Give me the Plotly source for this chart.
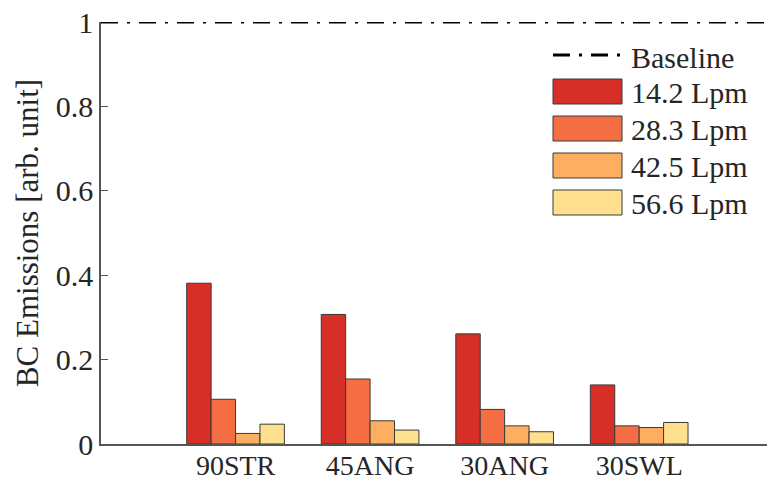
import plotly.graph_objects as go

categories = ["90STR", "45ANG", "30ANG", "30SWL"]
series_names = ["14.2 Lpm", "28.3 Lpm", "42.5 Lpm", "56.6 Lpm"]
values_14_2 = [0.381, 0.307, 0.261, 0.140]
values_28_3 = [0.106, 0.154, 0.082, 0.043]
values_42_5 = [0.025, 0.055, 0.043, 0.039]
values_56_6 = [0.047, 0.033, 0.029, 0.051]
baseline_name = "Baseline"
baseline_value = 1.0
y_ticks = [0, 0.2, 0.4, 0.6, 0.8, 1]
y_tick_labels = ["0", "0.2", "0.4", "0.6", "0.8", "1"]
y_title = "BC Emissions [arb. unit]"

colors = ["#D62F27", "#F46D43", "#FDAE61", "#FEE08F"]
series_values = [values_14_2, values_28_3, values_42_5, values_56_6]

FONT = "Liberation Serif"
TXT = "#262626"
AX = "#555555"
DASH = "17px,9px,3px,9px"

W, H = 767, 482
ML, MR, MT, MB = 101, 0, 22, 38
PW, PH = W - ML - MR, H - MT - MB


def px_x(p):
    return (p - ML) / PW


def px_y(p):
    return (H - MB - p) / PH


fig = go.Figure()
for name, vals, col in zip(series_names, series_values, colors):
    fig.add_trace(go.Bar(
        x=categories, y=vals, name=name,
        marker=dict(color=col, line=dict(color="#3a3a3a", width=1)),
        showlegend=False,
    ))

shapes = [
    dict(type="line", xref="paper", yref="y", x0=0, x1=1,
         y0=baseline_value, y1=baseline_value,
         line=dict(color="black", width=3, dash=DASH)),
]
annotations = []

# custom legend (large patches like the reference)
lx0, lx1 = 553, 622
text_x = 629
shapes.append(dict(type="line", xref="paper", yref="paper",
                   x0=px_x(lx0), x1=px_x(lx1 + 5), y0=px_y(55), y1=px_y(55),
                   line=dict(color="black", width=3, dash=DASH)))
annotations.append(dict(xref="paper", yref="paper", x=px_x(text_x), y=px_y(57),
                        text=baseline_name, showarrow=False, xanchor="left",
                        yanchor="middle", font=dict(family=FONT, size=30, color=TXT)))
tops = [79, 116, 153, 190]
for name, col, top in zip(series_names, colors, tops):
    shapes.append(dict(type="rect", xref="paper", yref="paper",
                       x0=px_x(lx0), x1=px_x(lx1), y0=px_y(top + 25), y1=px_y(top),
                       fillcolor=col, line=dict(color="#3a3a3a", width=1)))
    annotations.append(dict(xref="paper", yref="paper", x=px_x(text_x), y=px_y(top + 13),
                            text=name, showarrow=False, xanchor="left",
                            yanchor="middle", font=dict(family=FONT, size=30, color=TXT)))

fig.update_layout(
    width=W, height=H,
    margin=dict(l=ML, r=MR, t=MT, b=MB, pad=0),
    paper_bgcolor="white", plot_bgcolor="white",
    barmode="group", bargap=0.274, bargroupgap=0,
    font=dict(family=FONT, size=30, color=TXT),
    shapes=shapes, annotations=annotations,
    showlegend=False,
)
fig.update_xaxes(
    type="category", range=[-1, 3.95],
    showline=True, linecolor=AX, linewidth=1.5,
    ticks="", showgrid=False, zeroline=False,
    tickfont=dict(family=FONT, size=28, color=TXT),
    ticklabelstandoff=-4,
    automargin=False,
)
fig.update_yaxes(
    range=[0, 1], tickvals=y_ticks, ticktext=y_tick_labels,
    showline=True, linecolor=AX, linewidth=1.5,
    ticks="inside", ticklen=7, tickcolor=AX,
    showgrid=False, zeroline=False,
    tickfont=dict(family=FONT, size=30, color=TXT),
    title=dict(text=y_title, font=dict(family=FONT, size=31, color=TXT), standoff=8),
    automargin=False,
)

fig.write_html("out.html")
